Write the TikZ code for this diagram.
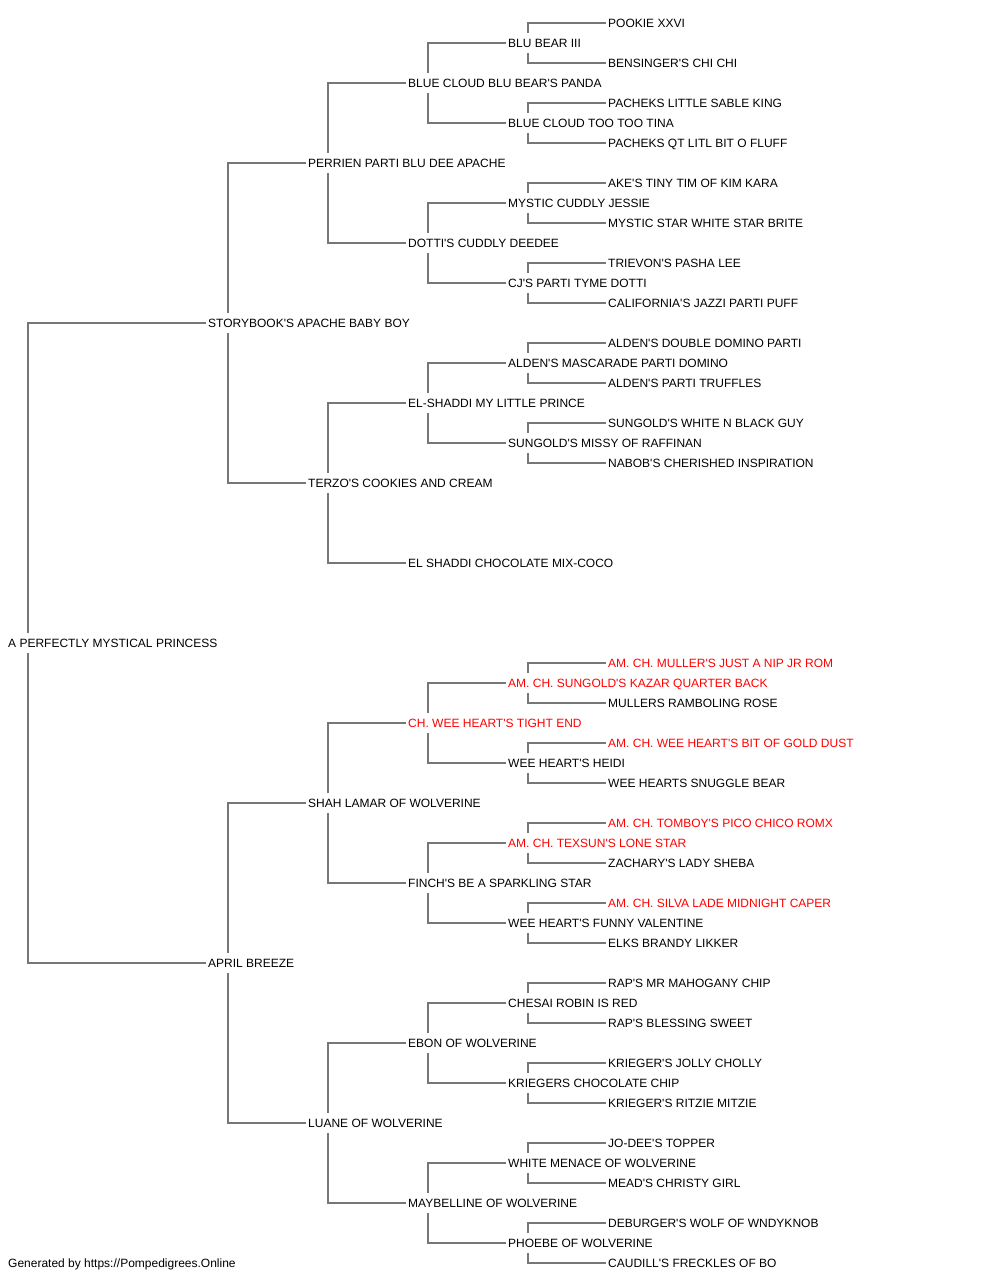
\documentclass[tikz,border=0pt]{standalone}
\usepackage{fontspec}
\setmainfont{Liberation Sans}[Ligatures=TeXOff]
\definecolor{linegray}{HTML}{777777}
\definecolor{chred}{HTML}{FF0000}
\begin{document}
\begin{tikzpicture}[x=1pt,y=1pt,
  nm/.style={anchor=west, inner xsep=2.5pt, inner ysep=5.7pt, text height=8.6pt, text depth=0pt, font=\fontsize{12}{14}\selectfont, text=black},
  ch/.style={nm, text=chred},
  conn/.style={draw=linegray, line width=1.3pt}]
\useasboundingbox (0,0) rectangle (1000,-1280);
% generation 0
\node[nm] (x) at (5.5,-643) {A PERFECTLY MYSTICAL PRINCESS};
% generation 1
\node[nm] (xs) at (205.5,-323) {STORYBOOK'S APACHE BABY BOY};
\node[nm] (xd) at (205.5,-963) {APRIL BREEZE};
% generation 2
\node[nm] (xss) at (305.5,-163) {PERRIEN PARTI BLU DEE APACHE};
\node[nm] (xsd) at (305.5,-483) {TERZO'S COOKIES AND CREAM};
\node[nm] (xds) at (305.5,-803) {SHAH LAMAR OF WOLVERINE};
\node[nm] (xdd) at (305.5,-1123) {LUANE OF WOLVERINE};
% generation 3
\node[nm] (xsss) at (405.5,-83) {BLUE CLOUD BLU BEAR'S PANDA};
\node[nm] (xssd) at (405.5,-243) {DOTTI'S CUDDLY DEEDEE};
\node[nm] (xsds) at (405.5,-403) {EL-SHADDI MY LITTLE PRINCE};
\node[nm] (xsdd) at (405.5,-563) {EL SHADDI CHOCOLATE MIX-COCO};
\node[ch] (xdss) at (405.5,-723) {CH. WEE HEART'S TIGHT END};
\node[nm] (xdsd) at (405.5,-883) {FINCH'S BE A SPARKLING STAR};
\node[nm] (xdds) at (405.5,-1043) {EBON OF WOLVERINE};
\node[nm] (xddd) at (405.5,-1203) {MAYBELLINE OF WOLVERINE};
% generation 4
\node[nm] (xssss) at (505.5,-43) {BLU BEAR III};
\node[nm] (xsssd) at (505.5,-123) {BLUE CLOUD TOO TOO TINA};
\node[nm] (xssds) at (505.5,-203) {MYSTIC CUDDLY JESSIE};
\node[nm] (xssdd) at (505.5,-283) {CJ'S PARTI TYME DOTTI};
\node[nm] (xsdss) at (505.5,-363) {ALDEN'S MASCARADE PARTI DOMINO};
\node[nm] (xsdsd) at (505.5,-443) {SUNGOLD'S MISSY OF RAFFINAN};
\node[ch] (xdsss) at (505.5,-683) {AM. CH. SUNGOLD'S KAZAR QUARTER BACK};
\node[nm] (xdssd) at (505.5,-763) {WEE HEART'S HEIDI};
\node[ch] (xdsds) at (505.5,-843) {AM. CH. TEXSUN'S LONE STAR};
\node[nm] (xdsdd) at (505.5,-923) {WEE HEART'S FUNNY VALENTINE};
\node[nm] (xddss) at (505.5,-1003) {CHESAI ROBIN IS RED};
\node[nm] (xddsd) at (505.5,-1083) {KRIEGERS CHOCOLATE CHIP};
\node[nm] (xddds) at (505.5,-1163) {WHITE MENACE OF WOLVERINE};
\node[nm] (xdddd) at (505.5,-1243) {PHOEBE OF WOLVERINE};
% generation 5
\node[nm] (xsssss) at (605.5,-23) {POOKIE XXVI};
\node[nm] (xssssd) at (605.5,-63) {BENSINGER'S CHI CHI};
\node[nm] (xsssds) at (605.5,-103) {PACHEKS LITTLE SABLE KING};
\node[nm] (xsssdd) at (605.5,-143) {PACHEKS QT LITL BIT O FLUFF};
\node[nm] (xssdss) at (605.5,-183) {AKE'S TINY TIM OF KIM KARA};
\node[nm] (xssdsd) at (605.5,-223) {MYSTIC STAR WHITE STAR BRITE};
\node[nm] (xssdds) at (605.5,-263) {TRIEVON'S PASHA LEE};
\node[nm] (xssddd) at (605.5,-303) {CALIFORNIA'S JAZZI PARTI PUFF};
\node[nm] (xsdsss) at (605.5,-343) {ALDEN'S DOUBLE DOMINO PARTI};
\node[nm] (xsdssd) at (605.5,-383) {ALDEN'S PARTI TRUFFLES};
\node[nm] (xsdsds) at (605.5,-423) {SUNGOLD'S WHITE N BLACK GUY};
\node[nm] (xsdsdd) at (605.5,-463) {NABOB'S CHERISHED INSPIRATION};
\node[ch] (xdssss) at (605.5,-663) {AM. CH. MULLER'S JUST A NIP JR ROM};
\node[nm] (xdsssd) at (605.5,-703) {MULLERS RAMBOLING ROSE};
\node[ch] (xdssds) at (605.5,-743) {AM. CH. WEE HEART'S BIT OF GOLD DUST};
\node[nm] (xdssdd) at (605.5,-783) {WEE HEARTS SNUGGLE BEAR};
\node[ch] (xdsdss) at (605.5,-823) {AM. CH. TOMBOY'S PICO CHICO ROMX};
\node[nm] (xdsdsd) at (605.5,-863) {ZACHARY'S LADY SHEBA};
\node[ch] (xdsdds) at (605.5,-903) {AM. CH. SILVA LADE MIDNIGHT CAPER};
\node[nm] (xdsddd) at (605.5,-943) {ELKS BRANDY LIKKER};
\node[nm] (xddsss) at (605.5,-983) {RAP'S MR MAHOGANY CHIP};
\node[nm] (xddssd) at (605.5,-1023) {RAP'S BLESSING SWEET};
\node[nm] (xddsds) at (605.5,-1063) {KRIEGER'S JOLLY CHOLLY};
\node[nm] (xddsdd) at (605.5,-1103) {KRIEGER'S RITZIE MITZIE};
\node[nm] (xdddss) at (605.5,-1143) {JO-DEE'S TOPPER};
\node[nm] (xdddsd) at (605.5,-1183) {MEAD'S CHRISTY GIRL};
\node[nm] (xdddds) at (605.5,-1223) {DEBURGER'S WOLF OF WNDYKNOB};
\node[nm] (xddddd) at (605.5,-1263) {CAUDILL'S FRECKLES OF BO};
% footer
\node[nm] (foot) at (5.5,-1263) {Generated by https://Pompedigrees.Online};
% connectors
\foreach \p in {x,xs,xd,xss,xsd,xds,xdd,xsss,xssd,xsds,xdss,xdsd,xdds,xddd,xssss,xsssd,xssds,xssdd,xsdss,xsdsd,xdsss,xdssd,xdsds,xdsdd,xddss,xddsd,xddds,xdddd}{
  \draw[conn] ([xshift=22.5pt]\p.north west) |- (\p s.west);
  \draw[conn] ([xshift=22.5pt]\p.south west) |- (\p d.west);
}
\end{tikzpicture}
\end{document}
